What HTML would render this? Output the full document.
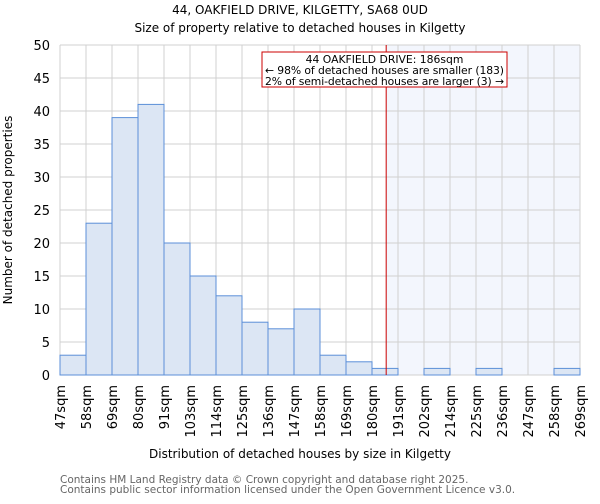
<!DOCTYPE html>
<html><head><meta charset="utf-8"><style>
body{margin:0;background:#fff;font-family:"DejaVu Sans","Liberation Sans",sans-serif;}
svg text{font-family:"DejaVu Sans","Liberation Sans",sans-serif;}
</style></head><body>
<svg width="600" height="500" id="chart">
<text x="300" y="14" text-anchor="middle" font-size="12">44, OAKFIELD DRIVE, KILGETTY, SA68 0UD</text>
<text x="300" y="32" text-anchor="middle" font-size="12">Size of property relative to detached houses in Kilgetty</text>
<g id="grid"></g><g id="bars"></g><g id="ticks"></g>
<text x="300" y="458" text-anchor="middle" font-size="12">Distribution of detached houses by size in Kilgetty</text>
<text transform="translate(12,210) rotate(-90)" text-anchor="middle" font-size="12">Number of detached properties</text>
<text x="60" y="483" font-size="10.5" fill="#666">Contains HM Land Registry data © Crown copyright and database right 2025.</text>
<text x="60" y="493" font-size="10.5" fill="#666">Contains public sector information licensed under the Open Government Licence v3.0.</text>
</svg>
<script>
const binLabels=["47sqm","58sqm","69sqm","80sqm","91sqm","103sqm","114sqm","125sqm","136sqm","147sqm","158sqm","169sqm","180sqm","191sqm","202sqm","214sqm","225sqm","236sqm","247sqm","258sqm","269sqm"];
const binEdges=[47,58,69,80,91,103,114,125,136,147,158,169,180,191,202,214,225,236,247,258,269];
const counts=[3,23,39,41,20,15,12,8,7,10,3,2,1,0,1,0,1,0,0,1];
const yTicks=[0,5,10,15,20,25,30,35,40,45,50];
const subjectSize=186;
const NS="http://www.w3.org/2000/svg";
const X0=60,X1=580,Y0=375,Y1=45,YMAX=50;
const bw=(X1-X0)/counts.length;
const xi=i=>X0+i*bw;
const y=v=>Y0-(v/YMAX)*(Y0-Y1);
function xv(v){for(let i=0;i<binEdges.length-1;i++){if(v>=binEdges[i]&&v<=binEdges[i+1])return xi(i)+(v-binEdges[i])/(binEdges[i+1]-binEdges[i])*bw;}return X1;}
function mk(tag,attrs,parent){const e=document.createElementNS(NS,tag);for(const k in attrs)e.setAttribute(k,attrs[k]);parent.appendChild(e);return e;}
const svg=document.getElementById('chart'),grid=document.getElementById('grid'),bars=document.getElementById('bars'),ticks=document.getElementById('ticks');
const sx=xv(subjectSize);
let sh=mk('rect',{x:sx,y:Y1,width:X1-sx,height:Y0-Y1,fill:'#f3f6fd'},grid);


for(let i=0;i<binEdges.length;i++){let l=mk('line',{x1:xi(i),x2:xi(i),y1:Y1,y2:Y0,stroke:'#d0d0d0','stroke-width':1},grid);

}
yTicks.forEach(t=>{let l=mk('line',{x1:X0,x2:X1,y1:y(t),y2:y(t),stroke:'#d0d0d0','stroke-width':1},grid);


let tx=mk('text',{x:X0-10,y:y(t)+5,'text-anchor':'end','font-size':13},ticks);tx.textContent=t;

});
counts.forEach((c,i)=>{if(c<=0)return;let r=mk('rect',{x:xi(i),y:y(c),width:bw,height:Y0-y(c),fill:'#dce6f4',stroke:'#5b8fd8','stroke-width':1},bars);

});
binLabels.forEach((s,i)=>{let tx=mk('text',{transform:`translate(${xi(i)+5},385) rotate(-90)`,'text-anchor':'end','font-size':13},ticks);tx.textContent=s;

});
let rl=mk('line',{x1:sx,x2:sx,y1:Y1,y2:Y0,stroke:'#cc0000','stroke-width':1},svg);


let g=mk('g',{},svg);


mk('rect',{x:262,y:52,width:245,height:35,fill:'#ffffff',stroke:'#cc0000','stroke-width':1},g);
[["44 OAKFIELD DRIVE: 186sqm",'middle',384.5,63],["← 98% of detached houses are smaller (183)",'start',265,74],["2% of semi-detached houses are larger (3) →",'start',265,85]].forEach(a=>{let t=mk('text',{x:a[2],y:a[3],'text-anchor':a[1],'font-size':10.8,textLength:a[1]==='start'?239:null},g);if(a[1]!=='start')t.removeAttribute('textLength');t.textContent=a[0];

});
</script>
</body></html>
